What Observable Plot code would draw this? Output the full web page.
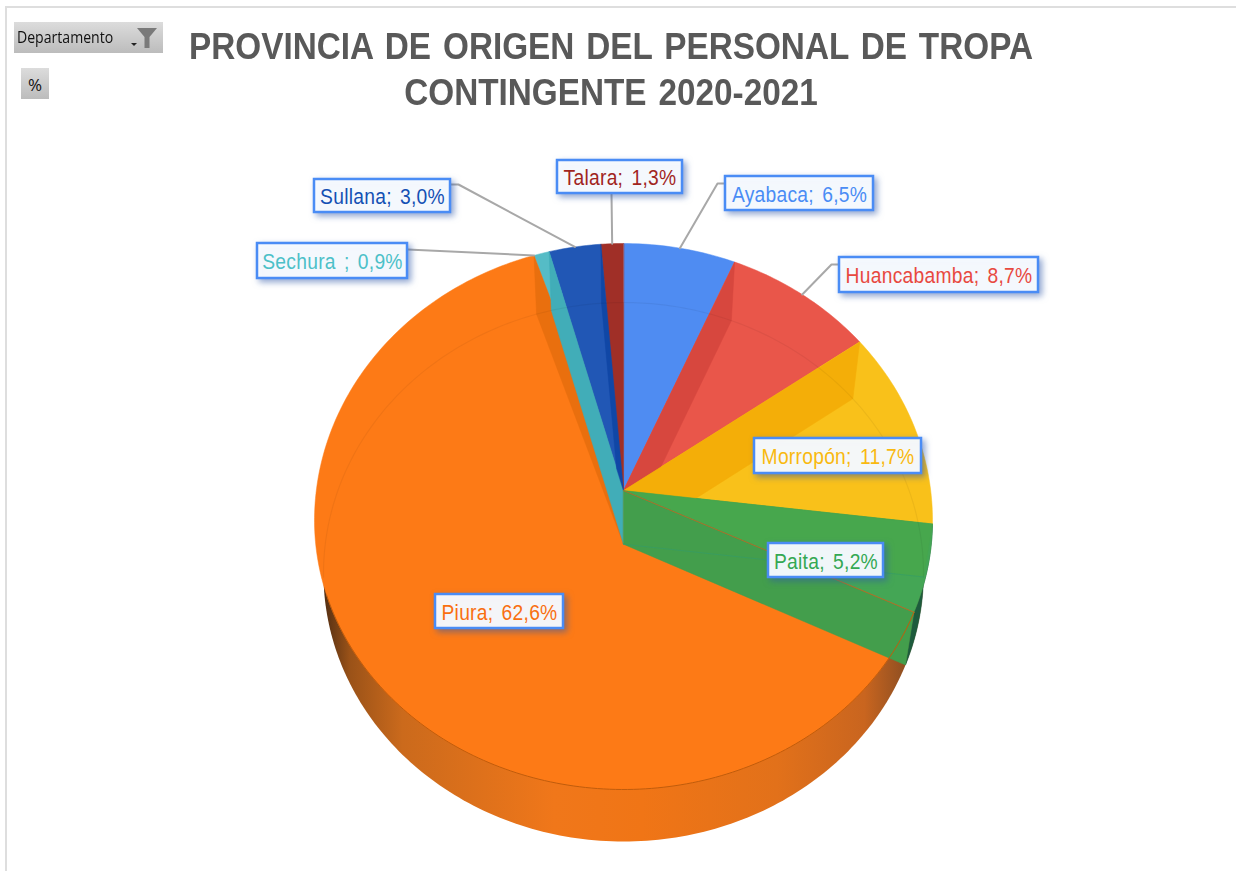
<!DOCTYPE html>
<html>
<head>
<meta charset="utf-8">
<script src="https://cdn.jsdelivr.net/npm/d3@7"></script>
<script src="https://cdn.jsdelivr.net/npm/@observablehq/plot@0.6"></script>
<style>
html,body{margin:0;padding:0;background:#fff;overflow:hidden}
#page{position:relative;width:1236px;height:871px;font-family:"Liberation Sans",Arial,sans-serif}
#frame{position:absolute;left:5px;top:6px;right:0;bottom:0;border-left:2px solid #dedede;border-top:2px solid #dedede}
#header{position:relative;height:130px}
#title{position:absolute;left:0;top:24px;width:1222px;text-align:center;color:#595959;font-weight:700;font-size:37px;line-height:46px;word-spacing:3px;margin:0;transform:scaleX(.9);transform-origin:611px 0;white-space:nowrap}
.btn{position:absolute;background:linear-gradient(#dcdcdc,#bcbcbc);color:#111;font-family:"Open Sans","Noto Sans",sans-serif;font-size:16px}
#dep{left:14px;top:22px;width:149px;height:31px;line-height:30px}
#dep span{display:inline-block;margin-left:3px;transform:scaleX(.88);transform-origin:0 50%}
#dep svg{position:absolute;left:116px;top:4px}
#pct{left:21px;top:68px;width:28px;height:31px;line-height:33px;text-align:center;font-size:17px}
rect[aria-label="cajas"]{filter:drop-shadow(3px 3px 3px rgba(50,90,170,.55))}
g[aria-label="text"] text{word-spacing:3px;letter-spacing:.3px}
svg[class^="plot"]{display:block}
</style>
</head>
<body>
<div id="page">
<div id="frame"></div>
<div id="header">
<h1 id="title">PROVINCIA DE ORIGEN DEL PERSONAL DE TROPA<br>CONTINGENTE 2020-2021</h1>
<div class="btn" id="dep"><span>Departamento</span>
<svg width="32" height="24" viewBox="0 0 32 24"><path d="M1 17h6l-3 3z" fill="#222"/><path d="M7 2h20l-7.5 9v11h-5V11z" fill="#7a7a7a"/></svg></div>
<div class="btn" id="pct">%</div>
</div>
<div id="chart"></div>
</div>
<script>
// Datos
const categories = ["Ayabaca","Huancabamba","Morropón","Paita","Piura","Sechura ","Sullana","Talara"];
const shares = [6.5,8.7,11.7,5.2,62.6,0.9,3.0,1.3];
const labels = ["Ayabaca; 6,5%","Huancabamba; 8,7%","Morropón; 11,7%","Paita; 5,2%","Piura; 62,6%","Sechura ; 0,9%","Sullana; 3,0%","Talara; 1,3%"];

// Estilos
const faceColors = ["#4f8cf2","#e9564a","#f9c11a","#44a655","#fd7a16","#55bcc6","#2157b5","#a02f27"];
const sideColors = ["#4f8cf2","#d7473e","#f4ae08","#47a74d","#e96f0e","#41adb8","#1047a6","#a02f27"];
const textColors = ["#4a8cf5","#e8493f","#f9b90f","#34a853","#f96f10","#4cc0c8","#1450b4","#a1251e"];

// Geometría del pastel en perspectiva
const top3d = {cx:623, cy:520, rx:309, ry:277, ryLow:269};
const bot3d = {cx:623, cy:573, rx:300, ry:271, ryLow:268};
const a = 0.108, s = Math.sqrt(1 - a*a);
const rad = d => d * Math.PI / 180;
function rim(disc, deg) {
  const u = Math.sin(rad(deg)), v = -Math.cos(rad(deg)), d = 1 - a*v;
  const X = u*s/d, Y = (v-a)/d;
  return [disc.cx + disc.rx*X, disc.cy + (Y > 0 ? disc.ryLow : disc.ry)*Y];
}
const apexTop = [top3d.cx, top3d.cy - a*top3d.ry];
const apexBot = [bot3d.cx, bot3d.cy - a*bot3d.ry];
function arcPts(disc, d0, d1) {
  const n = Math.max(2, Math.ceil(Math.abs(d1-d0))), out = [];
  for (let i = 0; i <= n; i++) out.push(rim(disc, d0 + (d1-d0)*i/n));
  return out;
}
function cross(p1, p2, p3, p4) {
  const d = (p1[0]-p2[0])*(p3[1]-p4[1]) - (p1[1]-p2[1])*(p3[0]-p4[0]);
  if (Math.abs(d) < 1e-9) return null;
  const t = ((p1[0]-p3[0])*(p3[1]-p4[1]) - (p1[1]-p3[1])*(p3[0]-p4[0]))/d;
  const r = -((p1[0]-p2[0])*(p1[1]-p3[1]) - (p1[1]-p2[1])*(p1[0]-p3[0]))/d;
  return (t >= 0 && t <= 1 && r >= 0 && r <= 1) ? [p1[0]+(p2[0]-p1[0])*t, p1[1]+(p2[1]-p1[1])*t] : null;
}
const total = d3.sum(shares);
let acc = 0;
const slices = categories.map((name, i) => {
  const t0 = acc/total*360; acc += shares[i];
  const t1 = acc/total*360;
  return {name, i, t0, t1, mid:(t0+t1)/2};
});

// Polígonos
function poly(points, fill, extra = {}) {
  return Plot.line(points, {x:d=>d[0], y:d=>d[1], fill, stroke:fill, strokeWidth:0.5, curve:"linear-closed", ...extra});
}
function sideFace(sl) {
  const right = sl.mid < 180;
  const edge = right ? sl.t0 : sl.t1, other = right ? sl.t1 : sl.t0;
  const r = rim(top3d, edge), b = rim(bot3d, edge);
  const x = cross(b, apexBot, apexTop, rim(top3d, other));
  return x ? [apexTop, r, b, x] : [apexTop, r, b, apexBot];
}
const paita = slices[3], piura = slices[4];
const marks = [];

// Degradado de la pared
marks.push(() => {
  const ns = "http://www.w3.org/2000/svg";
  const defs = document.createElementNS(ns, "defs");
  defs.innerHTML = `<linearGradient id="wall" gradientUnits="userSpaceOnUse" x1="320" x2="905" y1="0" y2="0">
    <stop offset="0" stop-color="#4a2a12"/><stop offset=".05" stop-color="#9a5218"/>
    <stop offset=".14" stop-color="#cb6a1c"/><stop offset=".4" stop-color="#f0771a"/>
    <stop offset=".55" stop-color="#f07516"/><stop offset=".78" stop-color="#e2711a"/>
    <stop offset=".93" stop-color="#c9651f"/><stop offset="1" stop-color="#8f4f22"/>
  </linearGradient>`;
  return defs;
});
marks.push(poly(arcPts(bot3d, 0, 360), "url(#wall)", {strokeWidth:0}));
marks.push(poly([...arcPts(top3d, paita.t0, paita.t1), ...arcPts(bot3d, paita.t1, paita.t0)], "#1d5b3d"));

// Caras superiores
slices.forEach(sl => {
  marks.push(poly([apexTop, ...arcPts(top3d, sl.t0, sl.t1)], faceColors[sl.i]));
});
// Caras laterales
slices.forEach(sl => {
  if (sl.i === 0 || sl.i === 7) return;
  marks.push(poly(sideFace(sl), sideColors[sl.i]));
});
// Pared interior de Paita
marks.push(poly([apexTop, rim(top3d, paita.t1), rim(bot3d, paita.t1), apexBot], "#439e4c"));

// Arcos tenues y bordes
marks.push(Plot.line(arcPts(bot3d, -97, 97), {x:d=>d[0], y:d=>d[1], stroke:"#000", strokeOpacity:0.05, strokeWidth:1.2}));
marks.push(Plot.line(arcPts(top3d, paita.t1, 248), {x:d=>d[0], y:d=>d[1], stroke:"#c05c0c", strokeWidth:1}));
marks.push(Plot.line([apexTop, rim(top3d, paita.t1)], {x:d=>d[0], y:d=>d[1], stroke:"#a9702c", strokeWidth:1}));
marks.push(Plot.line([apexBot, rim(bot3d, paita.t0)], {x:d=>d[0], y:d=>d[1], stroke:"#2f9c72", strokeOpacity:.5, strokeWidth:1}));

// Composición de etiquetas
const labelBoxes = [
  {x1:725,x2:873,y1:176,y2:210},{x1:839,x2:1038,y1:257,y2:292},{x1:754,x2:921,y1:438,y2:473},
  {x1:768,x2:883,y1:543,y2:577},{x1:435,x2:563,y1:594,y2:628},{x1:257,x2:407,y1:243,y2:278},
  {x1:314,x2:450,y1:179,y2:212},{x1:557,x2:682,y1:160,y2:193}
];
const leaderBends = {0:[[725,183],[717,183]],1:[[838,264],[831,264]],5:[[407,249]],6:[[450,184],[458,184]],7:[[611,193]]};
Object.entries(leaderBends).forEach(([k, pts]) => {
  const end = +k === 5 ? slices[k].t0 : slices[k].mid;
  marks.push(Plot.line([...pts, rim(top3d, end)], {x:d=>d[0], y:d=>d[1], stroke:"#a8a8a8", strokeWidth:2}));
});
const labelRows = slices.map(sl => ({...labelBoxes[sl.i], label:labels[sl.i], color:textColors[sl.i]}));
marks.push(Plot.rect(labelRows, {x1:"x1",x2:"x2",y1:"y1",y2:"y2",fill:"#f8fbff",fillOpacity:0.96,stroke:"#4a8cf5",strokeWidth:2.5,ariaLabel:()=>"cajas"}));
marks.push(Plot.text(labelRows, {x:d=>(d.x1+d.x2)/2,y:d=>(d.y1+d.y2)/2+1,text:"label",fill:"color",fontSize:22,fontFamily:"Liberation Sans, Arial, sans-serif"}));

const chart = Plot.plot({
  width:1236, height:741, margin:0, axis:null,
  x:{domain:[0,1236], range:[0,1236]},
  y:{domain:[130,871], range:[0,741]},
  style:{background:"transparent"},
  marks
});
chart.style.position = "relative";
document.getElementById("chart").append(chart);
// Letra condensada, como en la imagen
chart.querySelectorAll('g[aria-label="text"] text').forEach(t => {
  t.setAttribute("textLength", (t.getComputedTextLength()*0.875).toFixed(1));
  t.setAttribute("lengthAdjust", "spacingAndGlyphs");
});
</script>
</body>
</html>
